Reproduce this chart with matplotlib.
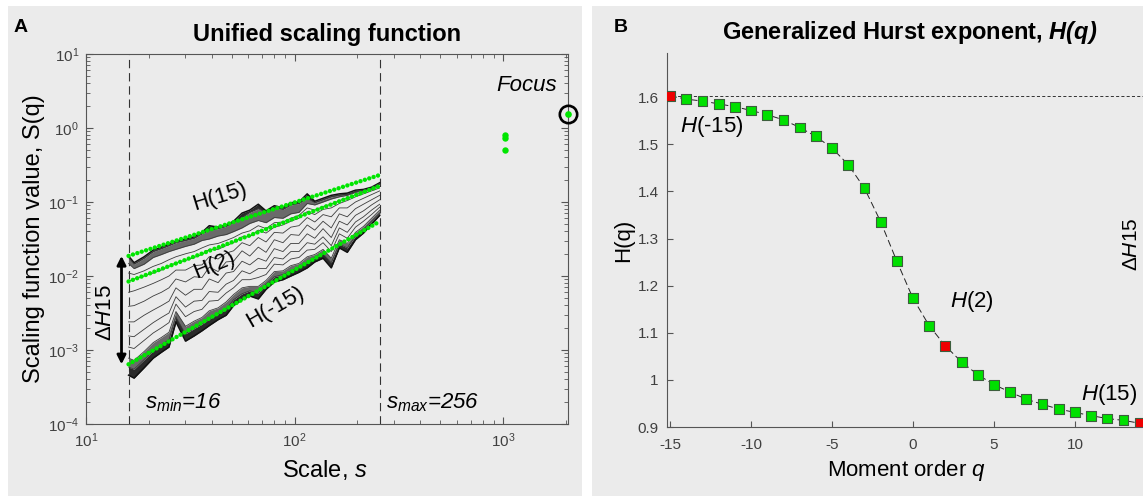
import numpy as np
import matplotlib
matplotlib.use("Agg")
import matplotlib.pyplot as plt
from matplotlib.patches import Rectangle
from matplotlib.ticker import LogLocator, NullFormatter, FixedLocator, FixedFormatter

plt.rcParams['font.family'] = ['Liberation Sans', 'DejaVu Sans']
plt.rcParams['mathtext.fontset'] = 'custom'
plt.rcParams['mathtext.rm'] = 'Liberation Sans'
plt.rcParams['mathtext.it'] = 'Liberation Sans:italic'
plt.rcParams['mathtext.bf'] = 'Liberation Sans:italic:bold'
plt.rcParams['axes.unicode_minus'] = False
plt.rcParams['lines.scale_dashes'] = False

# ---------------- data: panel A (log10 of scaling function values) ----------------
scales = [16, 17, 19, 21, 23, 25, 27, 30, 33, 36, 39, 43, 47, 51, 56, 61,
          67, 73, 80, 88, 96, 105, 115, 125, 137, 150, 164, 179, 196, 214, 234, 256]

logS_q15 = [-1.73, -1.82, -1.74, -1.65, -1.61, -1.57, -1.53, -1.50, -1.47, -1.41, -1.32, -1.34, -1.31, -1.26, -1.15, -1.11,
            -1.03, -1.12, -1.05, -1.08, -1.01, -1.00, -0.89, -0.99, -0.95, -0.91, -0.89, -0.88, -0.84, -0.83, -0.80, -0.74]
logS_q8 = [-1.75, -1.84, -1.76, -1.67, -1.63, -1.59, -1.55, -1.52, -1.49, -1.43, -1.38, -1.36, -1.33, -1.28, -1.21, -1.14,
           -1.09, -1.14, -1.08, -1.10, -1.04, -1.02, -0.95, -1.01, -0.97, -0.93, -0.91, -0.90, -0.86, -0.84, -0.81, -0.75]
logS_q5 = [-1.83, -1.90, -1.84, -1.75, -1.71, -1.67, -1.64, -1.60, -1.57, -1.52, -1.50, -1.46, -1.44, -1.40, -1.35, -1.29,
           -1.25, -1.28, -1.21, -1.22, -1.16, -1.14, -1.02, -1.04, -1.00, -0.96, -0.93, -0.91, -0.87, -0.85, -0.815, -0.76]
logS_q3 = [-1.96, -1.98, -1.93, -1.87, -1.83, -1.78, -1.74, -1.70, -1.67, -1.62, -1.58, -1.56, -1.52, -1.48, -1.42, -1.39,
           -1.32, -1.36, -1.28, -1.27, -1.22, -1.18, -1.08, -1.11, -1.06, -1.03, -0.98, -0.95, -0.90, -0.87, -0.83, -0.79]
logS_q2 = [-2.07, -2.04, -2.00, -1.96, -1.92, -1.87, -1.82, -1.79, -1.75, -1.71, -1.64, -1.64, -1.59, -1.55, -1.47, -1.47,
           -1.38, -1.42, -1.34, -1.31, -1.26, -1.22, -1.13, -1.17, -1.10, -1.08, -1.02, -0.98, -0.93, -0.89, -0.85, -0.81]
logS_q1 = [-2.22, -2.20, -2.15, -2.10, -2.05, -2.00, -1.92, -1.92, -1.86, -1.85, -1.74, -1.77, -1.69, -1.66, -1.55, -1.59,
           -1.48, -1.54, -1.41, -1.42, -1.34, -1.32, -1.21, -1.27, -1.17, -1.20, -1.08, -1.08, -1.00, -0.95, -0.90, -0.85]
logS_q0 = [-2.41, -2.40, -2.34, -2.27, -2.22, -2.16, -2.04, -2.08, -2.01, -2.02, -1.88, -1.94, -1.81, -1.80, -1.66, -1.73,
           -1.61, -1.68, -1.51, -1.55, -1.44, -1.45, -1.31, -1.38, -1.26, -1.35, -1.16, -1.20, -1.09, -1.03, -0.97, -0.91]
logS_qm1 = [-2.62, -2.62, -2.53, -2.46, -2.40, -2.34, -2.16, -2.26, -2.18, -2.18, -2.04, -2.09, -1.96, -1.94, -1.80, -1.85,
            -1.76, -1.80, -1.63, -1.67, -1.56, -1.56, -1.43, -1.49, -1.36, -1.48, -1.26, -1.31, -1.18, -1.12, -1.04, -0.97]
logS_qm2 = [-2.81, -2.82, -2.72, -2.63, -2.56, -2.50, -2.28, -2.42, -2.34, -2.33, -2.21, -2.22, -2.11, -2.06, -1.93, -1.97,
            -1.90, -1.90, -1.75, -1.77, -1.67, -1.67, -1.55, -1.57, -1.47, -1.59, -1.35, -1.41, -1.27, -1.20, -1.11, -1.03]
logS_qm3 = [-2.96, -2.98, -2.87, -2.77, -2.70, -2.63, -2.38, -2.55, -2.48, -2.45, -2.34, -2.33, -2.23, -2.16, -2.05, -2.05,
            -2.02, -1.98, -1.84, -1.85, -1.77, -1.75, -1.65, -1.64, -1.55, -1.67, -1.43, -1.49, -1.34, -1.26, -1.17, -1.07]
logS_qm5 = [-3.11, -3.14, -3.02, -2.90, -2.83, -2.76, -2.48, -2.68, -2.61, -2.56, -2.47, -2.43, -2.35, -2.25, -2.16, -2.14,
            -2.14, -2.06, -1.94, -1.93, -1.86, -1.83, -1.74, -1.71, -1.64, -1.76, -1.51, -1.56, -1.41, -1.33, -1.22, -1.11]
logS_qm8 = [-3.23, -3.26, -3.13, -3.01, -2.93, -2.86, -2.55, -2.78, -2.71, -2.65, -2.58, -2.51, -2.45, -2.32, -2.24, -2.20,
            -2.23, -2.11, -2.01, -1.98, -1.93, -1.88, -1.82, -1.75, -1.70, -1.82, -1.57, -1.62, -1.46, -1.37, -1.26, -1.15]
logS_qm15 = [-3.34, -3.38, -3.24, -3.11, -3.03, -2.96, -2.62, -2.88, -2.81, -2.74, -2.67, -2.59, -2.53, -2.40, -2.32, -2.27,
             -2.31, -2.18, -2.08, -2.05, -2.00, -1.95, -1.89, -1.81, -1.76, -1.89, -1.62, -1.68, -1.51, -1.42, -1.30, -1.18]

series_length = 2048          # focus scale
focus_value = 1.53            # S at the focus
extra_scale = 1024            # extra green points
s_min, s_max = 16, 256

# ---------------- data: panel B ----------------
q_orders = [-15, -14, -13, -12, -11, -10, -9, -8, -7, -6, -5, -4, -3, -2, -1,
            0, 1, 2, 3, 4, 5, 6, 7, 8, 9, 10, 11, 12, 13, 14]
hurst = [1.603, 1.596, 1.592, 1.586, 1.580, 1.572, 1.563, 1.552, 1.536, 1.517, 1.492, 1.457, 1.407, 1.336, 1.252,
         1.173, 1.115, 1.072, 1.038, 1.011, 0.990, 0.974, 0.959, 0.948, 0.938, 0.931, 0.924, 0.918, 0.914, 0.908]
highlight_q = [-15, 2, 14]
y_ticks_B = [0.9, 1.0, 1.1, 1.2, 1.3, 1.4, 1.5, 1.6]
y_ticklabels_B = ['0.9', '1', '1.1', '1.2', '1.3', '1.4', '1.5', '1.6']
x_ticks_B = [-15, -10, -5, 0, 5, 10]

# ---------------- styling ----------------
W, H = 1143, 498
panel_bg = '#ebebeb'
green = '#00e600'
spine_c = '#555555'
tick_c = '#404040'

def fx(px):
    return px / W

def fy(py):
    return 1 - py / H

fig = plt.figure(figsize=(W / 100, H / 100), dpi=100)
fig.add_artist(Rectangle((fx(8), fy(496)), fx(582) - fx(8), fy(6) - fy(496),
                         transform=fig.transFigure, facecolor=panel_bg, edgecolor='none', zorder=-10))
fig.add_artist(Rectangle((fx(592), fy(496)), 1 - fx(592), fy(6) - fy(496),
                         transform=fig.transFigure, facecolor=panel_bg, edgecolor='none', zorder=-10))

# ================= Panel A =================
axA = fig.add_axes([fx(86), fy(424), fx(568) - fx(86), fy(54) - fy(424)])
axA.set_facecolor('none')
axA.set_xscale('log')
axA.set_yscale('log')
axA.set_xlim(10, series_length)
axA.set_ylim(1e-4, 1e1)

sc = np.array(scales, dtype=float)
lines = [logS_q15, logS_q8, logS_q5, logS_q3, logS_q2, logS_q1, logS_q0,
         logS_qm1, logS_qm2, logS_qm3, logS_qm5, logS_qm8, logS_qm15]
axA.fill_between(sc, 10 ** np.array(logS_q15), 10 ** np.array(logS_q8), color='#2a2a2a', lw=0, zorder=2)
axA.fill_between(sc, 10 ** np.array(logS_q8), 10 ** np.array(logS_q5), color='#6a6a6a', lw=0, zorder=2)
axA.fill_between(sc, 10 ** np.array(logS_qm8), 10 ** np.array(logS_qm15), color='#2a2a2a', lw=0, zorder=2)
axA.fill_between(sc, 10 ** np.array(logS_qm5), 10 ** np.array(logS_qm8), color='#6a6a6a', lw=0, zorder=2)
for k, ls in enumerate(lines):
    edge = k in (0, len(lines) - 1)
    axA.plot(sc, 10 ** np.array(ls), color='#111111' if edge else '#3c3c3c',
             lw=1.1 if edge else 0.6, zorder=3)

# vertical dashed lines at s_min, s_max
for s in (s_min, s_max):
    axA.axvline(s, color='#333333', lw=0.8, dashes=(6, 3.5), zorder=1)

# regression lines through the focus
fit_orders = [14, 2, -15]
for qo in fit_orders:
    h = hurst[q_orders.index(qo)]
    ends = np.array([s_min, s_max], dtype=float)
    vals = focus_value * (ends / series_length) ** h
    axA.plot(ends, vals, color=green, lw=3.2, linestyle=(0, (0.01, 3.3)),
             dash_capstyle='round', zorder=5)
    axA.plot([extra_scale], [focus_value * (extra_scale / series_length) ** h], 'o',
             color=green, ms=4.6, mew=0, zorder=5, clip_on=False)
axA.plot([series_length], [focus_value], 'o', color=green, ms=4.8, mew=0, zorder=6, clip_on=False)
axA.plot([series_length], [focus_value], 'o', mfc='none', mec='black', ms=12.5, mew=1.9, zorder=6, clip_on=False)

# Delta H arrow
h15 = hurst[q_orders.index(14)]
hm15 = hurst[q_orders.index(-15)]
axA.annotate('', xy=(14.8, focus_value * (s_min / series_length) ** hm15),
             xytext=(14.8, focus_value * (s_min / series_length) ** h15),
             arrowprops=dict(arrowstyle='<|-|>', color='black', lw=2, mutation_scale=13,
                             shrinkA=0, shrinkB=0), zorder=6)

axA.text(12.4, 3.2e-3, r'$\Delta H$15', rotation=90, ha='center', va='center', fontsize=16)
axA.text(44.0, 0.117, 'H(15)', rotation=17, ha='center', va='center', fontsize=16, rotation_mode='anchor')
axA.text(41.1, 0.0141, 'H(2)', rotation=22, ha='center', va='center', fontsize=16, rotation_mode='anchor')
axA.text(80.5, 0.0038, 'H(-15)', rotation=30, ha='center', va='center', fontsize=16, rotation_mode='anchor')
axA.text(29.2, 1.92e-4, r'$s_{min}$=16', ha='center', va='center', fontsize=16, style='italic')
axA.text(461, 1.92e-4, r'$s_{max}$=256', ha='center', va='center', fontsize=16, style='italic')
axA.text(1303, 3.8, 'Focus', ha='center', va='center', fontsize=16, style='italic')

axA.xaxis.set_major_locator(LogLocator(base=10, numticks=10))
axA.xaxis.set_minor_locator(LogLocator(base=10, subs=np.arange(2, 10), numticks=20))
axA.yaxis.set_major_locator(LogLocator(base=10, numticks=10))
axA.yaxis.set_minor_locator(LogLocator(base=10, subs=np.arange(2, 10), numticks=20))
axA.xaxis.set_minor_formatter(NullFormatter())
axA.yaxis.set_minor_formatter(NullFormatter())
axA.tick_params(which='both', direction='in', top=True, right=True, color=spine_c,
                labelcolor=tick_c, labelsize=11)
axA.tick_params(which='major', length=5, width=0.8)
axA.tick_params(which='minor', length=3, width=0.6)
axA.tick_params(axis='x', pad=5)
axA.tick_params(axis='y', pad=5)
for sp in axA.spines.values():
    sp.set_color(spine_c)
    sp.set_linewidth(0.8)

fig.text(fx(327), fy(35), 'Unified scaling function', ha='center', va='center',
         fontsize=17, fontweight='bold')
fig.text(fx(21), fy(28), 'A', ha='center', va='center', fontsize=14, fontweight='bold')
fig.text(fx(34), fy(239), 'Scaling function value, S(q)', rotation=90, ha='center', va='center', fontsize=17)
fig.text(fx(325), fy(470), r'Scale, $s$', ha='center', va='center', fontsize=17)

# ================= Panel B =================
axB = fig.add_axes([fx(667), fy(427), 1 - fx(667), fy(53) - fy(427)])
axB.set_facecolor('none')
axB.set_xlim(-15.19, 14.2)
axB.set_ylim(0.9, 1.694)
axB.axhline(hurst[0], color='#333333', lw=0.7, dashes=(2.2, 1.6), zorder=1)
axB.plot(q_orders, hurst, color='#222222', lw=0.7, dashes=(5, 2.5), zorder=2)
cols = ['#ee0000' if q in highlight_q else '#00e000' for q in q_orders]
axB.scatter(q_orders, hurst, marker='s', s=50, c=cols, edgecolors='#3d5e3d',
            linewidths=0.8, zorder=3, clip_on=True)

axB.set_xticks(x_ticks_B)
axB.yaxis.set_major_locator(FixedLocator(y_ticks_B))
axB.yaxis.set_major_formatter(FixedFormatter(y_ticklabels_B))
axB.tick_params(which='both', direction='in', color=spine_c, labelcolor=tick_c,
                labelsize=11, length=4, width=0.8)
axB.tick_params(axis='x', pad=8)
axB.tick_params(axis='y', pad=6)
axB.spines['top'].set_visible(False)
axB.spines['right'].set_visible(False)
for s_ in ('left', 'bottom'):
    axB.spines[s_].set_color(spine_c)
    axB.spines[s_].set_linewidth(0.8)

axB.text(-12.4, 1.537, r'$H$(-15)', ha='center', va='center', fontsize=16)
axB.text(3.64, 1.166, r'$H$(2)', ha='center', va='center', fontsize=16)
axB.text(12.1, 0.968, r'$H$(15)', ha='center', va='center', fontsize=16)
axB.text(13.5, 1.287, r'$\Delta H$15', rotation=90, ha='center', va='center', fontsize=15)

fig.text(fx(910), fy(33), r'Generalized Hurst exponent, $\mathbf{H(q)}$', ha='center', va='center',
         fontsize=17, fontweight='bold')
fig.text(fx(621), fy(28), 'B', ha='center', va='center', fontsize=14, fontweight='bold')
fig.text(fx(624), fy(240), 'H(q)', rotation=90, ha='center', va='center', fontsize=16)
fig.text(fx(906), fy(470), r'Moment order $q$', ha='center', va='center', fontsize=16)

fig.savefig('out.png', dpi=100)
